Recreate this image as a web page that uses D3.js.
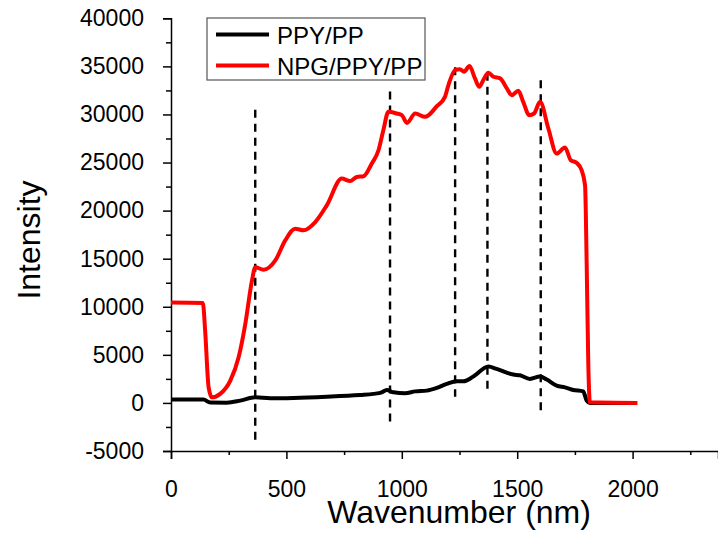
<!DOCTYPE html>
<html>
<head>
<meta charset="utf-8">
<script src="https://cdn.jsdelivr.net/npm/d3@7"></script>
<style>
  body { margin: 0; background: #fff; }
  svg { display: block; font-family: "Liberation Sans", Arial, sans-serif; }
</style>
</head>
<body>
<script>
// PPY/PP (black) trace
const ppyX = [0, 141, 170, 242, 300, 365, 430, 531, 675, 819, 877, 913, 935, 964, 1014, 1058, 1108, 1152, 1195, 1238, 1267, 1310, 1375, 1411, 1483, 1512, 1555, 1599, 1628, 1671, 1707, 1743, 1786, 1801, 1815, 2020];
const ppyY = [350, 350, 40, 30, 240, 580, 480, 520, 650, 830, 940, 1100, 1350, 1100, 1000, 1200, 1280, 1560, 1980, 2250, 2250, 2740, 3780, 3540, 2950, 2870, 2500, 2740, 2430, 1800, 1620, 1350, 1200, 240, 0, 0];

// NPG/PPY/PP (red) trace
const npgX = [0, 138, 148, 163, 177, 213, 257, 293, 322, 351, 365, 401, 452, 495, 538, 574, 625, 675, 740, 776, 805, 834, 870, 899, 920, 942, 978, 1000, 1022, 1058, 1101, 1152, 1187, 1202, 1231, 1252, 1270, 1293, 1317, 1336, 1353, 1375, 1397, 1426, 1455, 1476, 1505, 1526, 1552, 1573, 1599, 1635, 1671, 1707, 1732, 1758, 1779, 1794, 1801, 1808, 1815, 2020];
const npgY = [10450, 10400, 7500, 1620, 580, 940, 2320, 4750, 8230, 12740, 14120, 13850, 14820, 16900, 18120, 17950, 18810, 20550, 23330, 23080, 23500, 23570, 24900, 26280, 28360, 30270, 30100, 29930, 29120, 30100, 29750, 30860, 31830, 33050, 34610, 34690, 34440, 35030, 33750, 32870, 33570, 34330, 33920, 33750, 32710, 32010, 32460, 31310, 29930, 30100, 31310, 28540, 25940, 26560, 25240, 24960, 24200, 22630, 14500, 4100, 60, 0];

// dashed guide lines
const guideX = [365, 949, 1231, 1371, 1602];
const guideTop = [30500, 32400, 34900, 34330, 33570];
const guideBottom = [-3820, -1950, 650, 1280, -800];

const xTicks = [0, 500, 1000, 1500, 2000];
const xMinor = [250, 750, 1250, 1750, 2250];
const yTicks = [-5000, 0, 5000, 10000, 15000, 20000, 25000, 30000, 35000, 40000];
const yMinor = [-2500, 2500, 7500, 12500, 17500, 22500, 27500, 32500, 37500];

const seriesNames = ['PPY/PP', 'NPG/PPY/PP'];
const seriesColors = ['#000000', '#ff0000'];

const w = 718;
const h = 533;

const xScale = d3.scaleLinear().domain([0, 2370]).range([171, 718]);
const yScale = d3.scaleLinear().domain([-5000, 40000]).range([451, 18.3]);

const svg = d3.select('body')
  .append('svg')
  .attr('width', w)
  .attr('height', h);

// plain hyphen for negatives, like the original
const fmt = d => String(d);

/**
 * AXES
 */
const xAxis = d3.axisBottom(xScale).tickValues(xTicks).tickSize(8).tickPadding(22).tickFormat(fmt);
const yAxis = d3.axisLeft(yScale).tickValues(yTicks).tickSize(8).tickPadding(19).tickFormat(fmt);

svg.append('g')
  .attr('class', 'x-axis')
  .attr('transform', `translate(0, ${yScale(-5000)})`)
  .call(xAxis);

svg.append('g')
  .attr('transform', `translate(0, ${yScale(-5000)})`)
  .call(d3.axisBottom(xScale).tickValues(xMinor).tickSize(4).tickFormat(''))
  .select('.domain').remove();

svg.append('g')
  .attr('class', 'y-axis')
  .attr('transform', `translate(${xScale(0)}, 0)`)
  .call(yAxis);

svg.append('g')
  .attr('transform', `translate(${xScale(0)}, 0)`)
  .call(d3.axisLeft(yScale).tickValues(yMinor).tickSize(5).tickFormat(''))
  .select('.domain').remove();

svg.selectAll('.domain').attr('stroke', '#000').attr('stroke-width', 1.5);
svg.selectAll('.tick line').attr('stroke', '#000').attr('stroke-width', 1.5);
svg.selectAll('.tick text')
  .attr('font-size', 23)
  .attr('fill', '#000')
  .attr('font-family', '"Liberation Sans", Arial, sans-serif');

svg.append('text')
  .attr('text-anchor', 'middle')
  .attr('font-size', 32)
  .attr('transform', `translate(459, 523)`)
  .text('Wavenumber (nm)');

svg.append('text')
  .attr('text-anchor', 'middle')
  .attr('font-size', 32)
  .attr('transform', `translate(40, 240)rotate(-90)`)
  .text('Intensity');

/**
 * DASHED GUIDES
 */
svg.selectAll('.guide')
  .data(guideX)
  .enter()
  .append('line')
  .attr('class', 'guide')
  .attr('x1', d => xScale(d))
  .attr('x2', d => xScale(d))
  .attr('y1', (d, i) => yScale(guideTop[i]))
  .attr('y2', (d, i) => yScale(guideBottom[i]))
  .attr('stroke', '#000')
  .attr('stroke-width', 2.4)
  .attr('stroke-dasharray', '8,6');

/**
 * CURVES
 */
const line = d3.line()
  .x(d => xScale(d[0]))
  .y(d => yScale(d[1]))
  .curve(d3.curveMonotoneX);

const series = [
  ppyX.map((x, i) => [x, ppyY[i]]),
  npgX.map((x, i) => [x, npgY[i]])
];

svg.selectAll('.curve')
  .data(series)
  .enter()
  .append('path')
  .attr('class', 'curve')
  .attr('d', line)
  .attr('fill', 'none')
  .attr('stroke', (d, i) => seriesColors[i])
  .attr('stroke-width', 4)
  .attr('stroke-linejoin', 'round');

/**
 * LEGEND
 */
const legend = svg.append('g');

legend.append('rect')
  .attr('x', 207)
  .attr('y', 18)
  .attr('width', 218)
  .attr('height', 62)
  .attr('fill', '#fff')
  .attr('stroke', '#555')
  .attr('stroke-width', 1.2);

seriesNames.forEach((name, i) => {
  const ly = 34.5 + i * 31;
  legend.append('line')
    .attr('x1', 216).attr('x2', 269)
    .attr('y1', ly).attr('y2', ly)
    .attr('stroke', seriesColors[i])
    .attr('stroke-width', 4);
  legend.append('text')
    .attr('x', 277)
    .attr('y', ly + 9)
    .attr('font-size', 24)
    .text(name);
});
</script>
</body>
</html>
